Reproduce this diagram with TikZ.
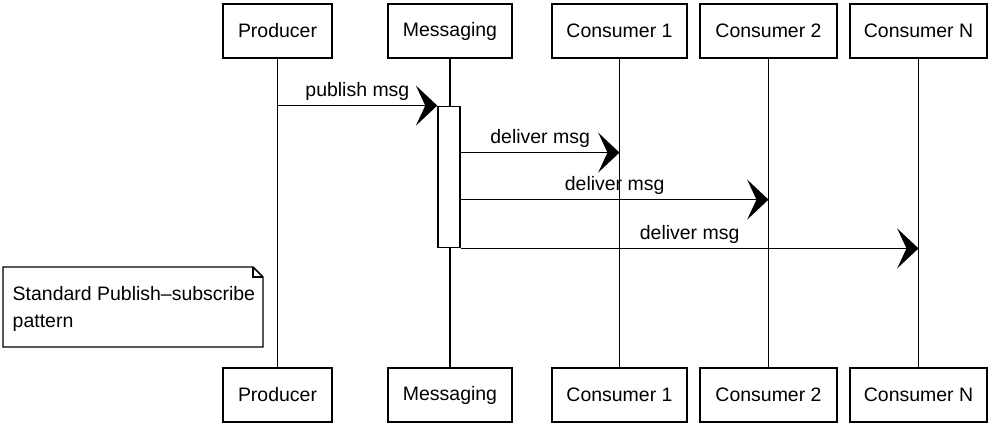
\documentclass[tikz,border=0pt]{standalone}
\usepackage{fontspec}
\setmainfont{Liberation Sans}
\usetikzlibrary{positioning, arrows.meta, calc}

\begin{document}
\begin{tikzpicture}[x=0.75pt, y=-0.75pt, line width=1.1pt,
  actor/.style={draw, fill=white, minimum height=40.5pt, inner sep=0pt, font=\fontsize{14.6}{17}\selectfont},
  actbar/.style={draw, fill=white, minimum width=16.5pt, minimum height=106pt, inner sep=0pt},
  msgline/.style={-{Stealth[length=16pt, width=30pt, inset=7pt]}},
  msglabel/.style={above=2pt, inner sep=1pt, font=\fontsize{14.6}{17}\selectfont}]
  \useasboundingbox (0,0) rectangle (993,428);
  % participants and lifelines
  \foreach \name/\txt/\x/\w in {prod/Producer/277.5/109, msg/Messaging/450/124,
      cA/Consumer 1/619.5/135, cB/Consumer 2/768.5/137, cN/Consumer N/918.5/137}{
    \node[actor, minimum width=\w*0.75pt] (\name Top) at (\x,31) {\txt};
    \node[actor, minimum width=\w*0.75pt] (\name Bot) at (\x,395) {\txt};
    \draw (\name Top) -- (\name Bot);
  }
  % activation on the messaging lifeline
  \node[actbar] (act) at (449,177) {};
  \coordinate (pubFrom) at (prodTop.south |- act.north);
  \coordinate (dlvA) at ($(act.north east)+(0,47)$);
  \coordinate (dlvB) at ($(act.north east)+(0,94)$);
  \coordinate (dlvN) at (act.south east);
  \draw[msgline] (pubFrom) -- (act.north west) node[midway, msglabel] (pubLbl) {publish msg};
  \draw[msgline] (dlvA) -- (cATop.south |- dlvA) node[midway, msglabel] (dlvALbl) {deliver msg};
  \draw[msgline] (dlvB) -- (cBTop.south |- dlvB) node[midway, msglabel] (dlvBLbl) {deliver msg};
  \draw[msgline] (dlvN) -- (cNTop.south |- dlvN) node[midway, msglabel] (dlvNLbl) {deliver msg};
  % note with folded corner
  \draw[fill=white] (3,267) -- (253,267) -- (263,277) -- (263,347) -- (3,347) -- cycle;
  \draw (253,267) -- (253,277) -- (263,277);
  \node[anchor=north west, align=left, inner sep=0pt, font=\fontsize{14.6}{20}\selectfont] (note) at (12,286)
    {Standard Publish–subscribe\\pattern};
\end{tikzpicture}
\end{document}
